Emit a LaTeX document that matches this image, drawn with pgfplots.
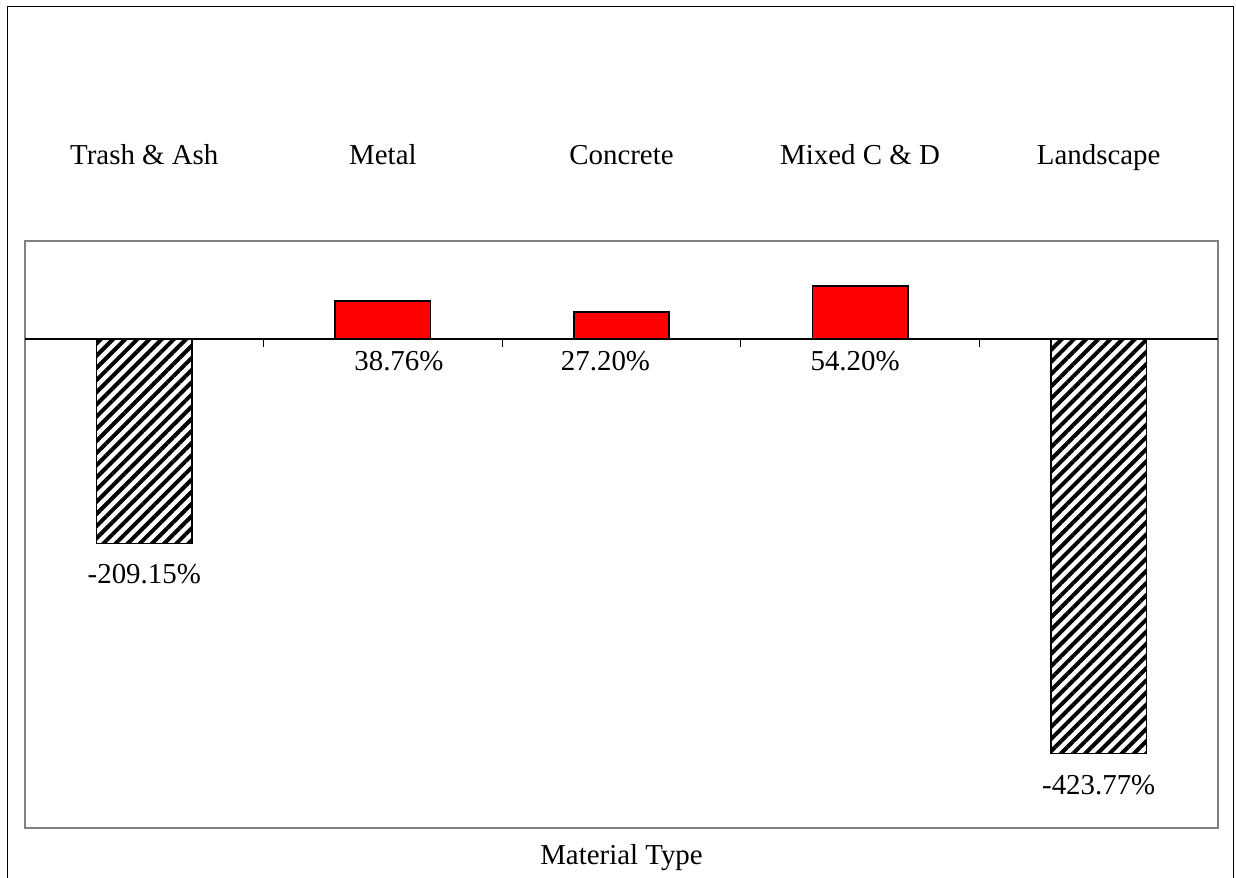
\documentclass[border=0pt]{standalone}
\usepackage{pgfplots}
\pgfplotsset{compat=1.18}
\usepackage{fontspec}
\setmainfont{Liberation Serif}
\usetikzlibrary{patterns.meta}
\begin{document}
\fontsize{14.5}{17}\selectfont
\begin{tikzpicture}
\useasboundingbox (0,0) rectangle (618bp,439bp);
\draw[line width=0.8bp] (3.75bp,-5bp) -- (3.75bp,435.75bp) -- (616.75bp,435.75bp) -- (616.75bp,-5bp);
\begin{axis}[at={(12.5bp,25bp)}, anchor=south west, scale only axis,
  width=596.5bp, height=293.5bp,
  xmin=-0.5, xmax=4.5, ymin=-500, ymax=100,
  ybar, bar width=0.4, bar shift=0pt,
  ytick=\empty, xtick={0,1,2,3,4},
  xticklabels={Trash \& Ash, Metal, Concrete, Mixed C \& D, Landscape},
  xticklabel pos=upper, major tick length=0pt,
  x tick style={draw=none},
  xticklabel style={anchor=base, yshift=38bp, font=\fontsize{14.5}{17}\selectfont},
  axis line style={draw=gray, line width=1bp},
  xlabel={Material Type},
  xlabel style={at={(axis description cs:0.5,0)}, anchor=base, yshift=-18bp, font=\fontsize{14.5}{17}\selectfont},
  clip=false]
\addplot[fill=red, draw=black, line width=0.8bp] coordinates {(1,38.76) (2,27.20) (3,54.20)};
\addplot[draw=black, line width=0.8bp, pattern={Lines[angle=45,distance=4.3bp,line width=2bp]}, pattern color=black] coordinates {(0,-209.15) (4,-423.77)};
\draw[black, line width=0.8bp] (axis cs:-0.5,0) -- (axis cs:4.5,0);
\draw[black, line width=0.6bp] (axis cs:0.5,0) -- ([yshift=-4bp]axis cs:0.5,0);
\draw[black, line width=0.6bp] (axis cs:1.5,0) -- ([yshift=-4bp]axis cs:1.5,0);
\draw[black, line width=0.6bp] (axis cs:2.5,0) -- ([yshift=-4bp]axis cs:2.5,0);
\draw[black, line width=0.6bp] (axis cs:3.5,0) -- ([yshift=-4bp]axis cs:3.5,0);
\node[anchor=base, yshift=-16bp, xshift=8bp] at (axis cs:1,0) {38.76\%};
\node[anchor=base, yshift=-16bp, xshift=-8bp] at (axis cs:2,0) {27.20\%};
\node[anchor=base, yshift=-16bp, xshift=-2.5bp] at (axis cs:3,0) {54.20\%};
\node[anchor=base, yshift=-20bp] at (axis cs:0,-209.15) {-209.15\%};
\node[anchor=base, yshift=-20.5bp] at (axis cs:4,-423.77) {-423.77\%};
\end{axis}
\end{tikzpicture}
\end{document}
